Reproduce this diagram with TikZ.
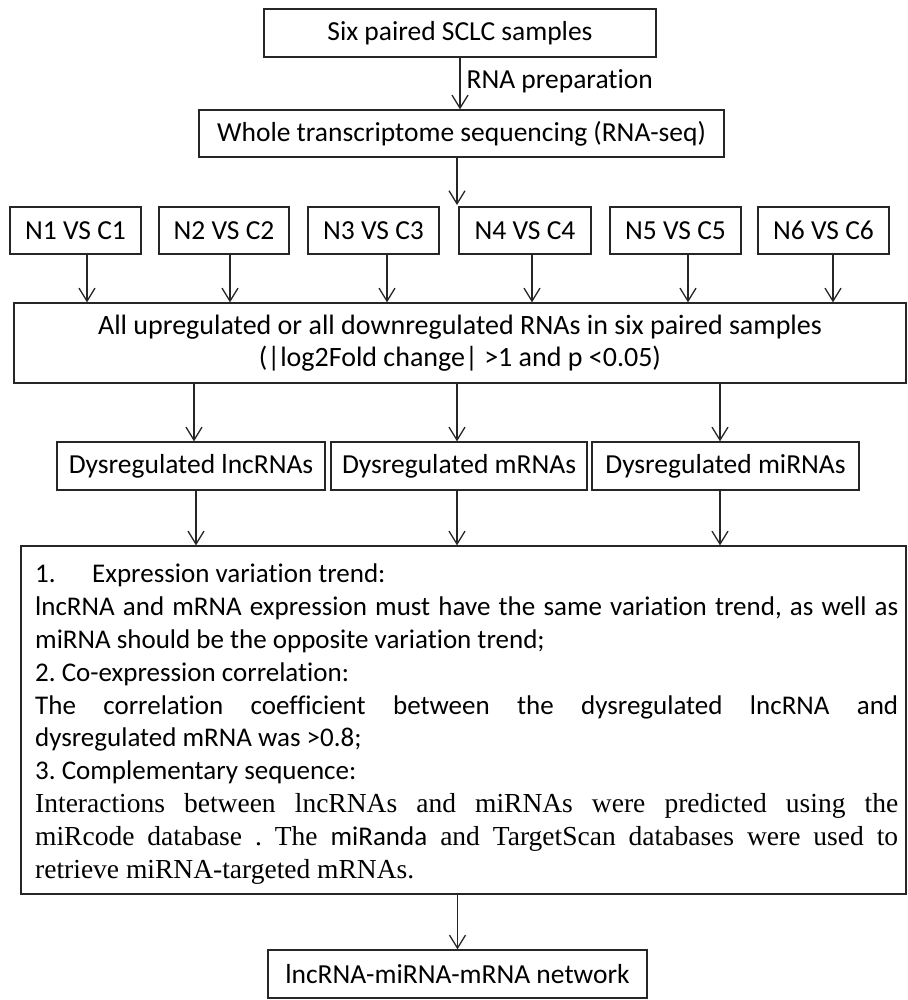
\documentclass[tikz,border=0pt]{standalone}
\usepackage{fontspec}
\setmainfont{Carlito}[Ligatures=NoCommon]
\newfontfamily\tms{Liberation Serif}
\usetikzlibrary{arrows.meta}
\newcommand{\jl}[1]{\makebox[863pt][s]{#1}}
\newcommand{\tmsz}{\tms\fontsize{27.5}{32.8}\selectfont}
\frenchspacing
\begin{document}
\begin{tikzpicture}[x=1pt,y=-1pt,
  box/.style={draw=black!85, line width=1.3pt, inner sep=0pt, align=center,
    font=\fontsize{27.5}{32}\selectfont,
    execute at begin node={\spaceskip=0pt\xspaceskip=0pt\frenchspacing}},
  lbl/.style={inner sep=0pt, font=\fontsize{27.5}{32}\selectfont},
  arr/.style={draw=black!85, line width=1.3pt,
    -{Straight Barb[length=13pt,width=16pt,line width=1.3pt]}},
]
\useasboundingbox (0,0) rectangle (907,1000);

% top
\node[box, minimum width=392pt, minimum height=48pt] (b1) at (460,33) {Six paired SCLC samples};
\node[box, minimum width=525pt, minimum height=47pt] (b2) at (461.5,133.5) {Whole transcriptome sequencing (RNA-seq)};
\coordinate (split) at (457,205);

% pairs
\node[box, minimum width=131pt, minimum height=47pt] (n1) at (75.5,230.5) {N1 VS C1};
\node[box, minimum width=130pt, minimum height=47pt] (n2) at (224,230.5) {N2 VS C2};
\node[box, minimum width=131pt, minimum height=47pt] (n3) at (373.5,230.5) {N3 VS C3};
\node[box, minimum width=132pt, minimum height=47pt] (n4) at (525,230.5) {N4 VS C4};
\node[box, minimum width=131pt, minimum height=47pt] (n5) at (675.5,230.5) {N5 VS C5};
\node[box, minimum width=131pt, minimum height=47pt] (n6) at (823.5,230.5) {N6 VS C6};

% big box
\node[box, minimum width=892pt, minimum height=80pt, font=\fontsize{28}{32}\selectfont] (big) at (460,343)
  {\spaceskip=0pt\xspaceskip=0pt All upregulated or all downregulated RNAs in six paired samples\\(|log2Fold change| >1 and p <0.05)};

% dysregulated row
\node[box, minimum width=268pt, minimum height=48pt] (d1) at (191,466) {Dysregulated lncRNAs};
\node[box, minimum width=256pt, minimum height=48pt] (d2) at (459,466) {Dysregulated mRNAs};
\node[box, minimum width=267pt, minimum height=48pt] (d3) at (725.5,466) {Dysregulated miRNAs};

% criteria box
\node[box, minimum width=885pt, minimum height=348pt] (tb) at (463.5,720) {};
\node[lbl, anchor=north west, text width=863pt, align=left,
  font=\fontsize{27}{32.8}\selectfont] (tbt) at (35,564) {%
\spaceskip=0pt\xspaceskip=0pt\frenchspacing
\makebox[57pt][l]{1.}Expression variation trend:\\
\jl{lncRNA and mRNA expression must have the same variation trend, as well as}\\
miRNA should be the opposite variation trend;\\
2. Co-expression correlation:\\
\jl{The correlation coefficient between the dysregulated lncRNA and}\\
dysregulated mRNA was >0.8;\\
3. Complementary sequence:\\
{\tmsz\jl{Interactions between lncRNAs and miRNAs were predicted using the}}\\
{\tmsz\jl{miRcode database . The {\rmfamily\fontsize{27}{32.8}\selectfont miRanda} and TargetScan databases were used to}}\\
{\tmsz retrieve miRNA-targeted mRNAs.}};

% final
\node[box, minimum width=379pt, minimum height=48pt] (fin) at (457.5,974) {lncRNA-miRNA-mRNA network};

% connectors
\draw[arr] (b1.south) -- node[lbl, right=6pt, yshift=2pt] (lab) {RNA preparation} (b1.south |- b2.north);
\draw[arr] (b2.south -| split) -- (split);

\draw[arr] ([xshift=11.5pt]n1.south) -- ([xshift=11.5pt]n1.south |- big.north);
\draw[arr] ([xshift=6pt]n2.south) -- ([xshift=6pt]n2.south |- big.north);
\draw[arr] ([xshift=13.5pt]n3.south) -- ([xshift=13.5pt]n3.south |- big.north);
\draw[arr] ([xshift=7pt]n4.south) -- ([xshift=7pt]n4.south |- big.north);
\draw[arr] ([xshift=12.5pt]n5.south) -- ([xshift=12.5pt]n5.south |- big.north);
\draw[arr] ([xshift=9.5pt]n6.south) -- ([xshift=9.5pt]n6.south |- big.north);

\draw[arr] ([xshift=3pt]d1.north |- big.south) -- ([xshift=3pt]d1.north);
\draw[arr] ([xshift=-2pt]d2.north |- big.south) -- ([xshift=-2pt]d2.north);
\draw[arr] ([xshift=-5.5pt]d3.north |- big.south) -- ([xshift=-5.5pt]d3.north);

\draw[arr] ([xshift=5pt]d1.south) -- ([xshift=5pt]d1.south |- tb.north);
\draw[arr] ([xshift=-2pt]d2.south) -- ([xshift=-2pt]d2.south |- tb.north);
\draw[arr] ([xshift=-5.5pt]d3.south) -- ([xshift=-5.5pt]d3.south |- tb.north);

\draw[arr] (fin.north |- tb.south) -- (fin.north);
\end{tikzpicture}
\end{document}
